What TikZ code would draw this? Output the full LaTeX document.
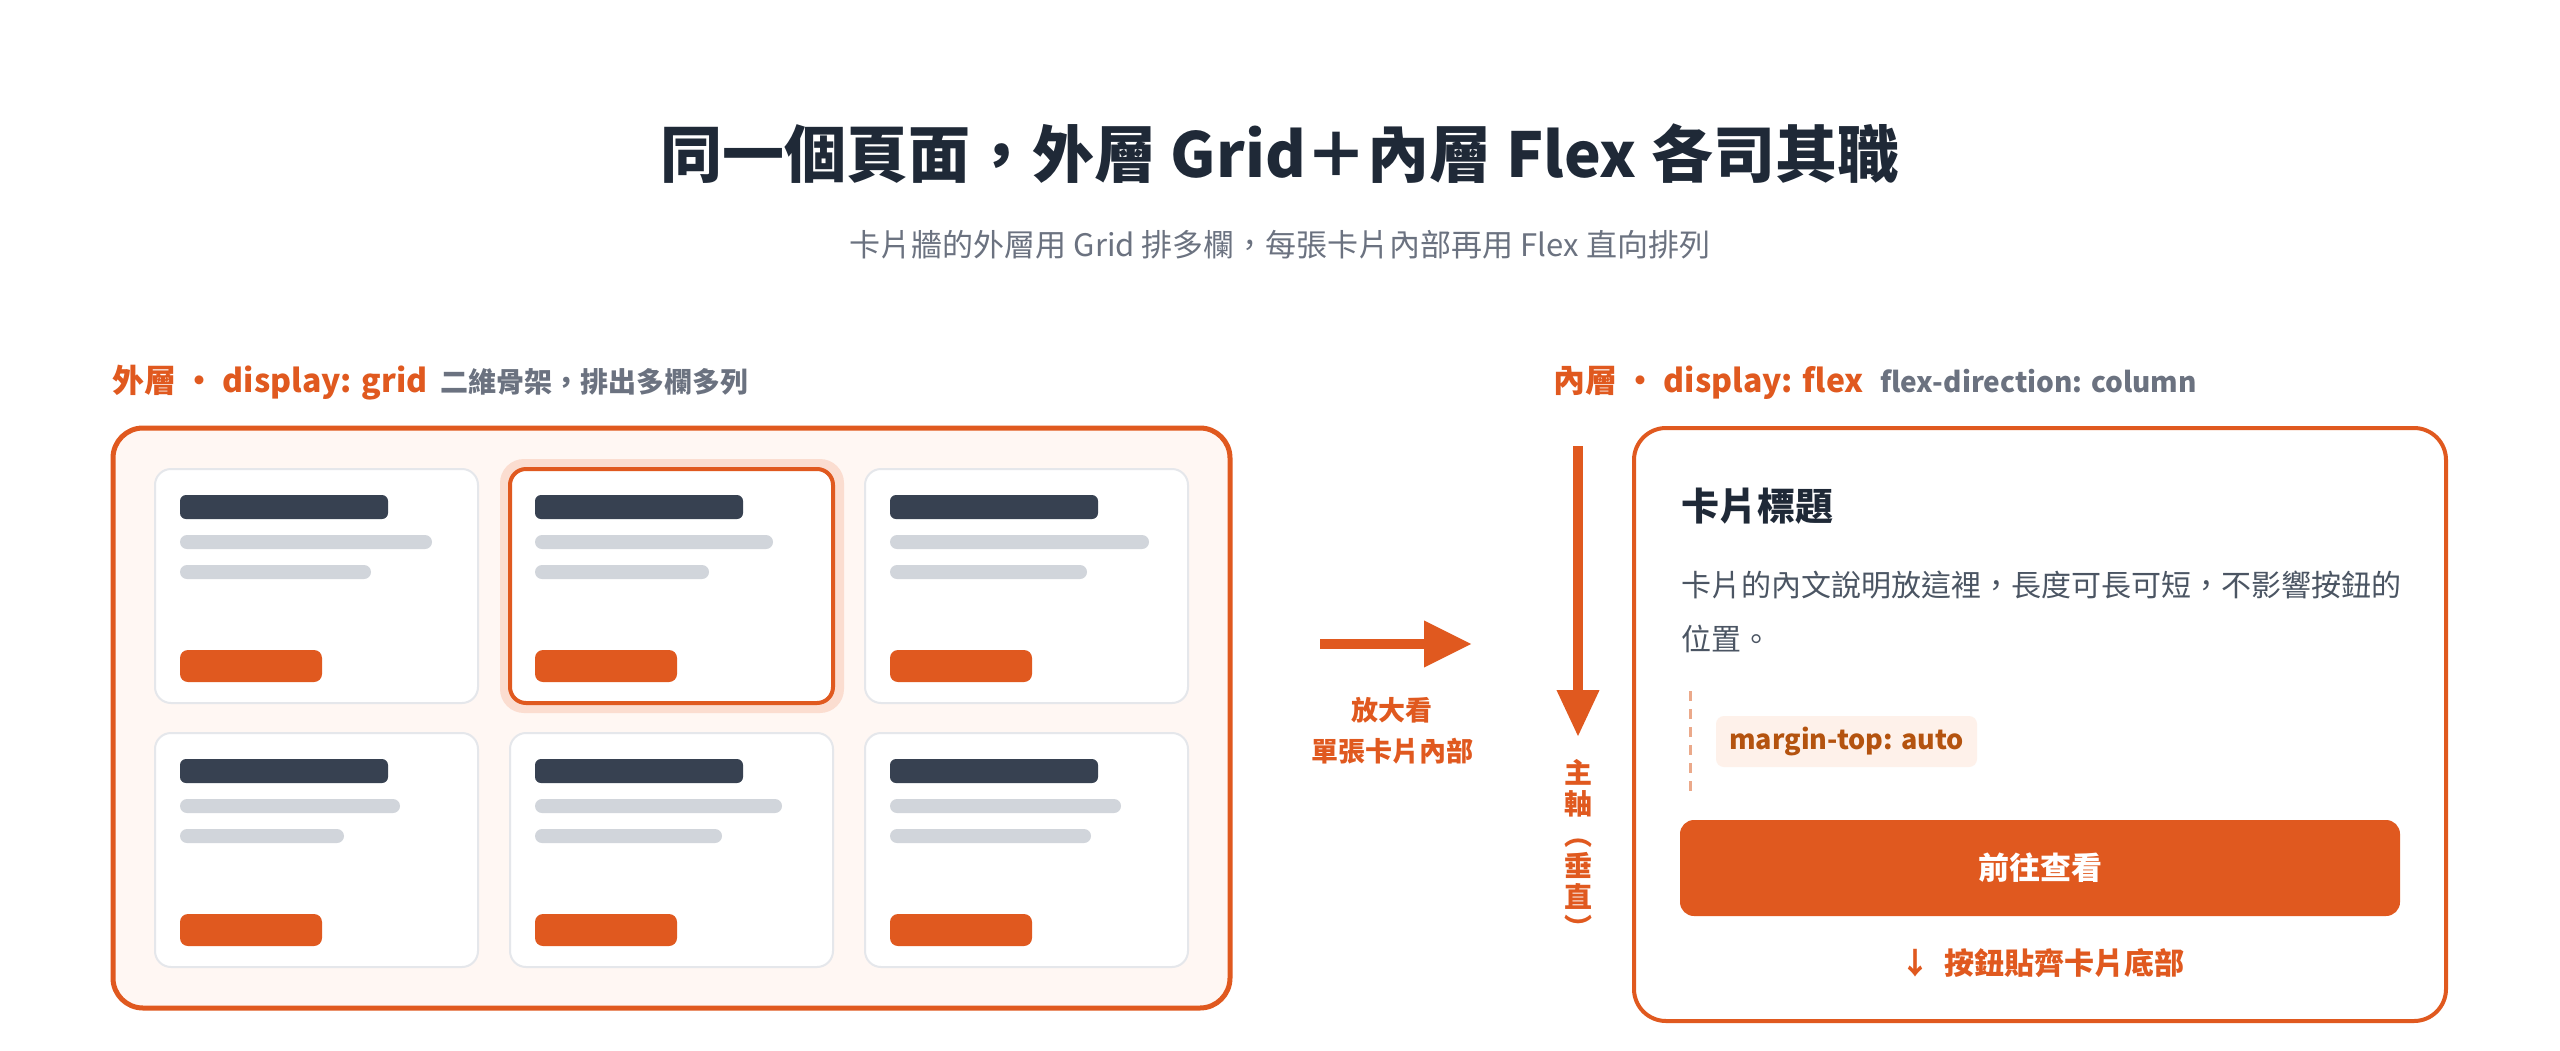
\documentclass[tikz,border=0pt]{standalone}
\usepackage{fontspec}
\setmainfont{Noto Sans CJK TC}
\usetikzlibrary{arrows.meta}
\definecolor{accent}{HTML}{E0591F}
\definecolor{titlec}{HTML}{1F2937}
\definecolor{subc}{HTML}{6B7280}
\definecolor{bodyc}{HTML}{4B5563}
\definecolor{darkbar}{HTML}{374151}
\definecolor{lightbar}{HTML}{D1D5DB}
\definecolor{cardline}{HTML}{E5E7EB}
\definecolor{outerfill}{HTML}{FFF7F3}
\definecolor{glowc}{HTML}{FBDDD0}
\definecolor{pillfill}{HTML}{FEF1EA}
\definecolor{pilltext}{HTML}{B4530F}
\definecolor{dashc}{HTML}{EBA98A}
\newcommand\fsz[2]{\fontsize{#1}{#2}\selectfont}
\begin{document}
\begin{tikzpicture}[x=1pt,y=-1pt,
  box/.style={inner sep=0pt,outer sep=0pt,anchor=north west},
  plaincard/.style={box,fill=white,draw=cardline,line width=2pt,rounded corners=16pt,minimum width=323,minimum height=234},
  hlcard/.style={box,fill=white,draw=accent,line width=4pt,rounded corners=16pt,minimum width=323,minimum height=234},
  dbar/.style={box,fill=darkbar,rounded corners=6pt,minimum width=208,minimum height=24},
  lbar/.style={box,fill=lightbar,rounded corners=7pt,minimum height=14},
  mbtn/.style={box,fill=accent,rounded corners=8pt,minimum width=142,minimum height=32},
  bigarrow/.style={draw=accent,line width=10pt},
  lbl/.style={inner sep=0pt,anchor=base west},
]
\useasboundingbox (0,0) rectangle (2560,1050);
\fill[white] (0,0) rectangle (2560,1050);

% title
\node[inner sep=0pt,text=titlec,font=\fsz{62}{74}\bfseries] (title) at (1280,154) {同一個頁面，外層 Grid＋內層 Flex 各司其職};
\node[inner sep=0pt,text=subc,font=\fsz{31}{38}] (subtitle) at (1280,245) {卡片牆的外層用 Grid 排多欄，每張卡片內部再用 Flex 直向排列};

% left label
\node[lbl,text=accent,font=\fsz{32}{38}\bfseries] (llab) at (112,392) {外層 ・ display: grid};
\node[lbl,text=subc,font=\fsz{28}{32}\bfseries,anchor=base west] (llab2) at ([xshift=12pt]llab.base east) {二維骨架，排出多欄多列};

% right label
\node[lbl,text=accent,font=\fsz{32}{38}\bfseries] (rlab) at (1553,392) {內層 ・ display: flex};
\node[lbl,text=subc,font=\fsz{28}{32}\bfseries,anchor=base west] (rlab2) at ([xshift=16pt]rlab.base east) {flex-direction: column};

% outer grid box
\node[box,fill=outerfill,draw=accent,line width=5pt,rounded corners=30pt,minimum width=1117,minimum height=580] (outer) at (113,428) {};

% glow behind highlighted card
\node[box,fill=glowc,rounded corners=24pt,minimum width=344,minimum height=254] (glow) at (500,459) {};

\foreach \n/\x/\y/\ga/\gb/\st in {1/155/469/252/191/plaincard,2/510/469/238/174/hlcard,3/865/469/259/197/plaincard,4/155/733/220/164/plaincard,5/510/733/247/187/plaincard,6/865/733/231/201/plaincard}{
  \node[\st] (c\n) at (\x,\y) {};
  \node[dbar] (t\n) at (\x+25,\y+26) {};
  \node[lbar,minimum width=\ga] (a\n) at (\x+25,\y+66) {};
  \node[lbar,minimum width=\gb] (b\n) at (\x+25,\y+96) {};
  \node[mbtn] (k\n) at (\x+25,\y+181) {};
}

% zoom arrow
\coordinate (ha) at (1320,644);
\coordinate (hb) at (1472,644);
\draw[bigarrow,-{Triangle[length=48pt,width=44pt]}] (ha) -- (hb);
\node[inner sep=0pt,text=accent,font=\fsz{27}{41}\bfseries,align=center] (zoomtxt) at (1392,731) {放大看\\單張卡片內部};

% main axis arrow
\coordinate (va) at (1578,446);
\coordinate (vb) at (1578,737);
\draw[bigarrow,-{Triangle[length=47pt,width=40pt]}] (va) -- (vb);
\node[inner sep=0pt,text=accent,font=\fsz{28}{31}\bfseries,align=center] (axistxt) at (1578,849) {主\\軸\\︵\\垂\\直\\︶};

% flex card
\node[box,fill=white,draw=accent,line width=4pt,rounded corners=32pt,minimum width=812,minimum height=593] (flexcard) at (1634,428) {};
\node[inner sep=0pt,anchor=west,text=titlec,font=\fsz{38}{46}\bfseries] (ctitle) at (1681,506) {卡片標題};
\node[inner sep=0pt,anchor=north west,text=bodyc,font=\fsz{30}{54},align=left] (cbody) at (1681,571) {卡片的內文說明放這裡，長度可長可短，不影響按鈕的\\位置。};

\coordinate (da) at (1690,691);
\coordinate (db) at (1690,791);
\draw[dashc,line width=3pt,dash pattern=on 10pt off 8pt] (da) -- (db);
\node[box,fill=pillfill,rounded corners=8pt,minimum width=261,minimum height=51] (pill) at (1716,716) {};
\node[inner sep=0pt,text=pilltext,font=\fsz{27}{32}\bfseries] (pilltxt) at (pill.center) {margin-top: auto};

\node[box,fill=accent,rounded corners=14pt,minimum width=720,minimum height=96] (gobtn) at (1680,820) {};
\node[inner sep=0pt,text=white,font=\fsz{31}{36}\bfseries] (gotxt) at (gobtn.center) {前往查看};

\node[inner sep=0pt,text=accent,font=\fsz{30}{36}\bfseries] (bottomtxt) at (2042,963) {↓\hspace{14pt}按鈕貼齊卡片底部};
\end{tikzpicture}
\end{document}
